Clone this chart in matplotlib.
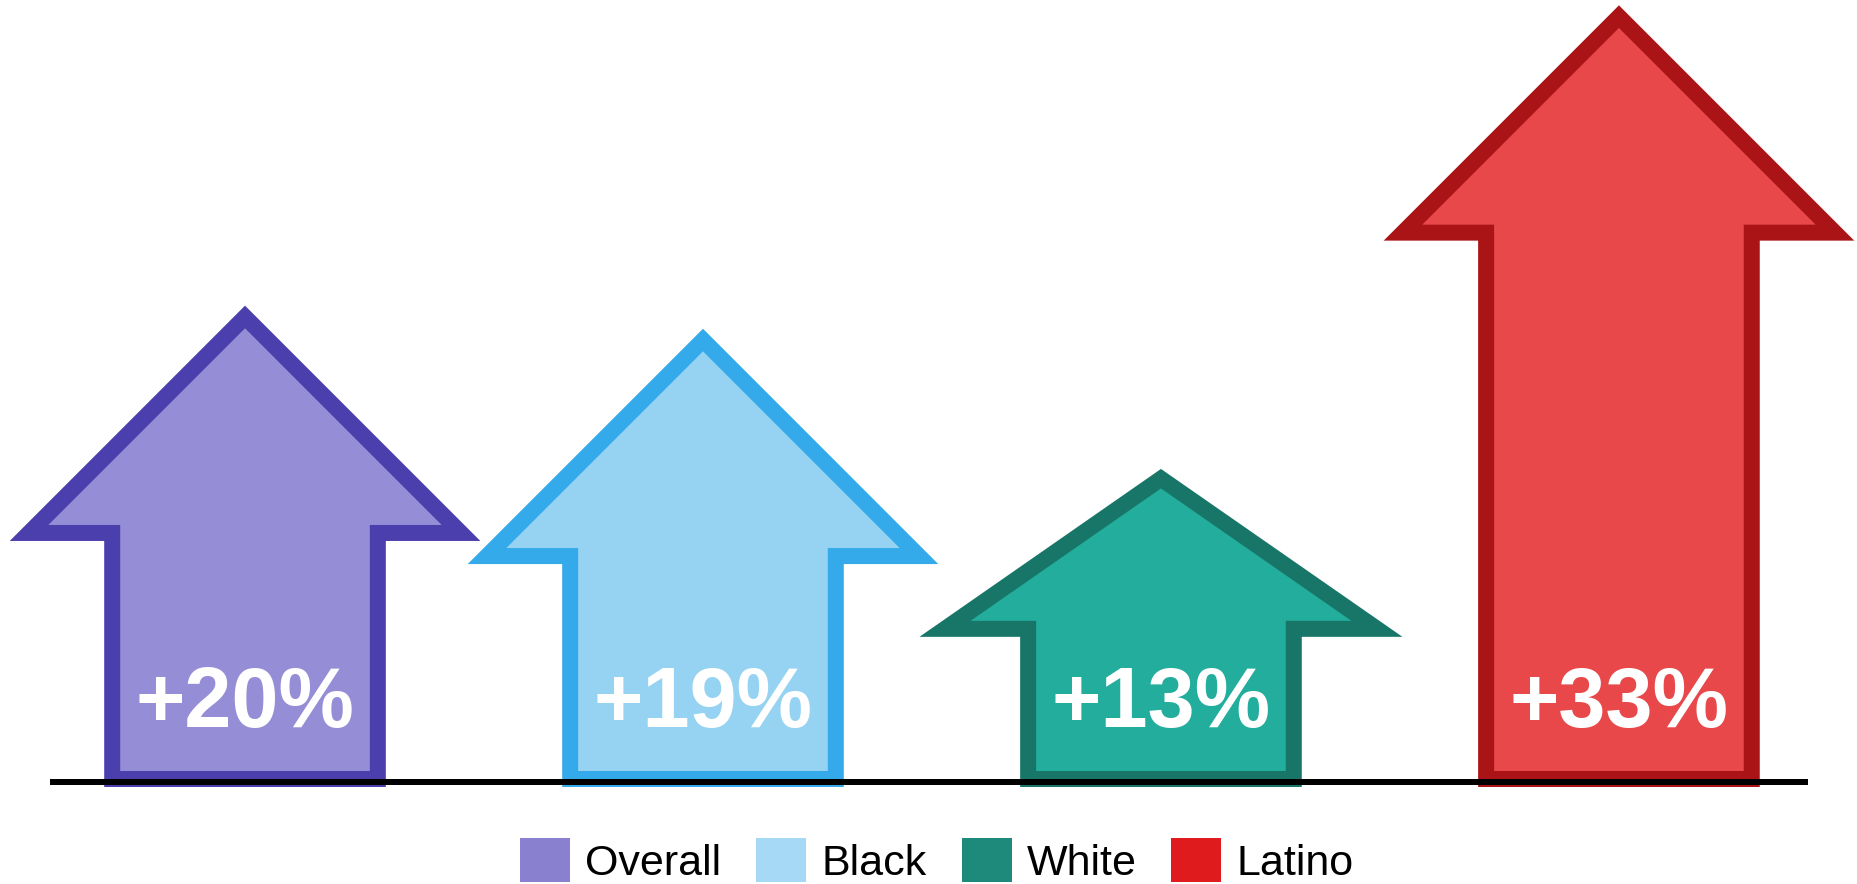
import matplotlib
matplotlib.use("Agg")
import matplotlib.pyplot as plt
from matplotlib.patches import Polygon, Patch

# ---- data ----
categories = ["Overall", "Black", "White", "Latino"]
values = [20, 19, 13, 33]
labels = ["+20%", "+19%", "+13%", "+33%"]

# ---- style ----
fill_colors = ["#958DD5", "#96D3F3", "#22AD9C", "#E8484A"]
edge_colors = ["#4A3FAD", "#35AAEA", "#187668", "#AA1417"]
legend_colors = ["#8A80D0", "#A6D9F5", "#1E8A7B", "#E01B1E"]
head_heights = [9.35, 9.35, 6.5, 9.35]   # in value units
shaft_half = 0.29                        # in category units
head_half = 0.4716

DPI = 100
fig = plt.figure(figsize=(18.58, 8.84), dpi=DPI)
ax = fig.add_axes([0, 0, 1, 1])
ax.set_xlim(-0.535, 3.522)
ax.set_ylim(-4.545, 33.72)
ax.axis("off")

lw = 16 * 72 / DPI
for i, (v, hh) in enumerate(zip(values, head_heights)):
    base = v - hh
    pts = [(i - shaft_half, 0), (i - shaft_half, base), (i - head_half, base),
           (i, v), (i + head_half, base), (i + shaft_half, base),
           (i + shaft_half, 0)]
    poly = Polygon(pts, closed=True, facecolor=fill_colors[i],
                   edgecolor=edge_colors[i], linewidth=lw, joinstyle="miter",
                   zorder=2)
    ax.add_patch(poly)
    ax.text(i, 2.25, labels[i], color="white", fontsize=61, fontweight="bold",
            family="Liberation Sans", ha="center", va="baseline", zorder=4)

ax.axhline(-0.13, xmin=(53 / 1858), xmax=(1805 / 1858), color="black",
           linewidth=6 * 72 / DPI, zorder=3)

handles = [Patch(facecolor=c, edgecolor="none") for c in legend_colors]
fig.legend(handles, categories, loc="center", ncol=4, frameon=False,
           bbox_to_anchor=(937 / 1858, 1 - 861 / 884),
           prop={"family": "Liberation Sans", "size": 31},
           handlelength=1.16, handleheight=1.2, handletextpad=0.35,
           columnspacing=0.81, borderpad=0)

fig.savefig("out.png", dpi=DPI)
